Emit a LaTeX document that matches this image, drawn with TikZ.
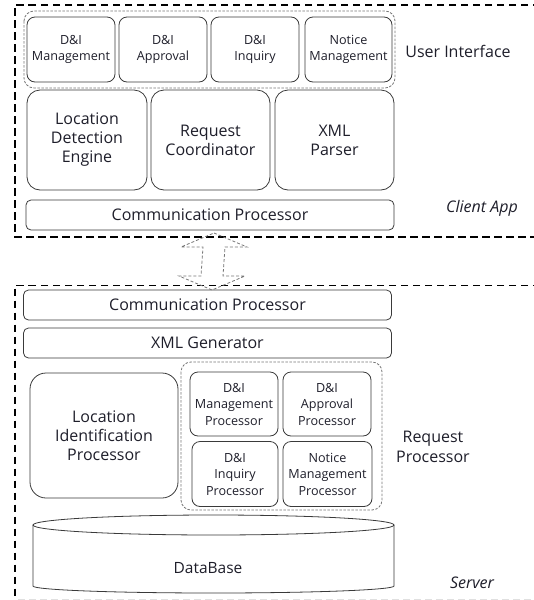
\documentclass[tikz,border=0pt]{standalone}
\usepackage{fontspec}
\setmainfont{Open Sans}
\usetikzlibrary{calc}
\definecolor{ink}{HTML}{1E1E2A}
\definecolor{edge}{HTML}{3A3A3A}
\definecolor{soft}{HTML}{777777}
\tikzset{
  box/.style={draw=edge, line width=0.8pt, rounded corners=#1, align=center,
    inner sep=0pt, outer sep=0pt, text=ink},
  box/.default=8pt,
  big/.style={font=\fontsize{16}{19}\selectfont},
  small/.style={font=\fontsize{12.6}{15.3}\selectfont},
  frame/.style={draw=black, line width=1.6pt, dash pattern=on 7.5pt off 4.5pt},
  group/.style={draw=soft, line width=0.8pt, dash pattern=on 2.5pt off 1.5pt,
    rounded corners=10pt},
  label/.style={text=ink, align=center, font=\fontsize{16}{20}\selectfont},
  tag/.style={text=ink, font=\fontsize{16}{19}\selectfont\itshape},
}
\begin{document}
\begin{tikzpicture}[x=1pt, y=-1pt]
\useasboundingbox (0,0) rectangle (534,600);

% ---------- Client application ----------
\draw[frame] (540,5) -- (15,5) -- (15,237) -- (540,237);

\draw[group] (24,11) rectangle (395,88);
\node[box, small, minimum width=88pt, minimum height=65pt] (uimgmt) at (71,49.5) {D\&I\\Management};
\node[box, small, minimum width=88pt, minimum height=65pt] (uiappr) at (163,49.5) {D\&I\\Approval};
\node[box, small, minimum width=88pt, minimum height=65pt] (uiinq)  at (255,49.5) {D\&I\\Inquiry};
\node[box, small, minimum width=87pt, minimum height=65pt] (uinote) at (348.5,49.5) {Notice\\Management};
\node[label] (uilbl) at (458,51) {User Interface};

\node[box=13pt, big, minimum width=120pt, minimum height=100pt] (lde) at (87,140) {Location\\Detection\\Engine};
\node[box=13pt, big, minimum width=119pt, minimum height=100pt] (rqc) at (210.5,140) {Request\\Coordinator};
\node[box=13pt, big, minimum width=119pt, minimum height=100pt] (xmlp) at (334.5,140) {XML\\Parser};

\node[box=5pt, big, minimum width=368pt, minimum height=30pt] (cpc) at (210,215) {Communication Processor};
\node[tag] (clbl) at (482,208) {Client App};

% ---------- Server ----------
\draw[frame] (540,285.5) -- (15,285.5) -- (15,600);
\draw[draw=black!12, line width=0.8pt, dash pattern=on 7pt off 4pt] (18,599) -- (534,599);

\node[box=5pt, big, minimum width=368pt, minimum height=30pt] (cps) at (207.5,305) {Communication Processor};
\node[box=5pt, big, minimum width=368pt, minimum height=30pt] (xmlg) at (207.5,343) {XML Generator};

\node[box=16pt, big, minimum width=148pt, minimum height=125pt] (lip) at (104,435.5) {Location\\Identification\\Processor};

\draw[group] (181,362) rectangle (382,510);
\node[box, small, font=\fontsize{12.6}{16.5}\selectfont, minimum width=88pt, minimum height=64pt] (spmgmt) at (234,404) {D\&I\\Management\\Processor};
\node[box, small, font=\fontsize{12.6}{16.5}\selectfont, minimum width=88pt, minimum height=64pt] (spappr) at (327,404) {D\&I\\Approval\\Processor};
\node[box, small, font=\fontsize{12.6}{16.5}\selectfont, minimum width=86pt, minimum height=65pt] (spinq)  at (235,474) {D\&I\\Inquiry\\Processor};
\node[box, small, font=\fontsize{12.6}{16.5}\selectfont, minimum width=89pt, minimum height=65pt] (spnote) at (327.5,474) {Notice\\Management\\Processor};
\node[label] (rplbl) at (433,447) {Request\\Processor};

% database cylinder
\draw[draw=edge, line width=0.8pt, fill=white]
  (33,525) -- (33,586) arc[start angle=180, end angle=360, x radius=180.5pt, y radius=7pt]
  -- (394,525);
\draw[draw=edge, line width=0.8pt] (213.5,525) ellipse[x radius=180.5pt, y radius=10pt];
\node[text=ink, font=\fontsize{15.5}{19}\selectfont] (db) at (208,568) {DataBase};
\node[tag] (slbl) at (472,583) {Server};

% ---------- link between client and server ----------
\coordinate (ltop) at ($(cpc.south)+(4,3)$);
\coordinate (lbot) at ($(cps.north)+(4.5,0)$);
\draw[draw=soft, line width=0.8pt, dash pattern=on 3pt off 2pt, line join=miter]
  (ltop) -- ++(33,14) -- ++(-22,0) -- ($(lbot)+(11,-14)$) -- ++(22,0)
  -- (lbot) -- ++(-33,-14) -- ++(22,0) -- ($(ltop)+(-11,14)$) -- ++(-22,0) -- cycle;
\end{tikzpicture}
\end{document}
